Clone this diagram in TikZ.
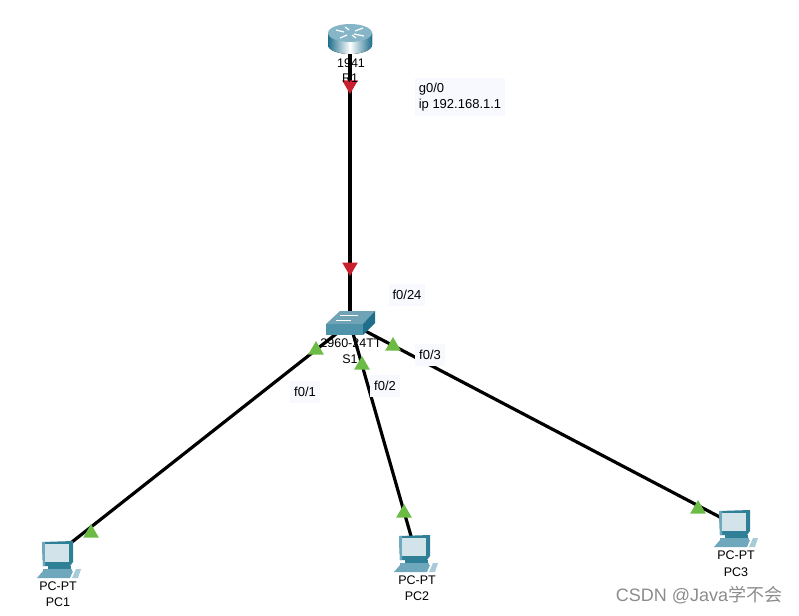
\documentclass[tikz,border=0pt]{standalone}
\usepackage{fontspec}
\setmainfont{Liberation Sans}
\newfontfamily\cjkfont{Noto Sans CJK SC}
\usetikzlibrary{shapes.geometric}
\definecolor{labelbg}{HTML}{F8F8FF}
\definecolor{pcdark}{HTML}{2F7F96}
\definecolor{pcmid}{HTML}{6FA8BC}
\definecolor{pcscreen}{HTML}{D3E3EA}
\definecolor{swtop}{HTML}{6FA3B5}
\definecolor{swfront}{HTML}{4F93AB}
\definecolor{swside}{HTML}{1F6F8B}
\definecolor{portred}{HTML}{C8202F}
\definecolor{portgreen}{HTML}{6CBB45}
\tikzset{
  device/.style={inner sep=0pt, minimum size=0pt},
  link/.style={draw=black, line width=3.2pt},
  portup/.style={regular polygon, regular polygon sides=3, fill=portgreen, inner sep=0pt, minimum size=18pt},
  portdown/.style={regular polygon, regular polygon sides=3, shape border rotate=180, fill=portred, inner sep=0pt, minimum size=18pt},
  devlabel/.style={inner sep=0pt, font=\fontsize{12.5}{14}\selectfont},
  note/.style={fill=labelbg, inner xsep=4pt, inner ysep=6pt, align=left, font=\fontsize{13}{16}\selectfont},
  routericon/.pic={
    \fill[left color=swside, right color=swside, middle color=white] (-22,-6) -- (-22,6) arc (180:0:22 and 9) -- (22,-6) -- cycle;
    \fill[pcmid!85] (0,-6) ellipse (22 and 9);
    \draw[white, line width=1.2pt] (-14,-9) -- (-6,-7) (13,-11) -- (5,-8) (-10,-1) -- (-3,-4) (14,-3) -- (4,-5) (-5,-12) -- (-1,-9) (6,-1) -- (2,-4);
  },
  switchicon/.pic={
    \fill[swtop] (-24,1) -- (-10,-12) -- (25,-12) -- (13,1) -- cycle;
    \fill[swfront] (-24,1) rectangle (13,12);
    \fill[swside] (13,1) -- (25,-12) -- (25,0) -- (13,12) -- cycle;
    \draw[white, line width=0.8pt] (-10,-8) -- (8,-8) (-14,-3) -- (1,-3);
  },
  pcicon/.pic={
    \fill[pcdark] (-16,0) -- (15,-1) -- (15,20) -- (12,24) -- (-15,24) -- cycle;
    \fill[pcmid] (-16,0) -- (-13,0) -- (-13,24) -- (-15,24) -- cycle;
    \fill[pcscreen] (-13,2) rectangle (11,20);
    \fill[pcdark] (-10,24) rectangle (13,27);
    \fill[pcmid] (-15,27) rectangle (14,29);
    \fill[pcmid] (-21,36) -- (-15,29) -- (15,29) -- (12,36) -- cycle;
    \fill[pcmid!60] (18,27) -- (23,27) -- (20,36) -- (14,36) -- cycle;
  }
}
\begin{document}
\begin{tikzpicture}[x=1pt,y=-1pt]
            \useasboundingbox (0,0) rectangle (799,615);

            % Define nodes
            \node[device] (R1) at (350,39) {};
            \node[device] (S1) at (350,323) {};
            \node[device] (PC1) at (58,553) {};
            \node[device] (PC2) at (415,550) {};
            \node[device] (PC3) at (735,525) {};

            % Draw edges
            \draw[link] (R1) -- (S1);
            \draw[link] (S1) -- (PC1);
            \draw[link] (S1) -- (PC2);
            \draw[link] (S1) -- (PC3);

            % Icons
            \pic at (350,39) {routericon};
            \pic at (350,323) {switchicon};
            \pic at (58,542) {pcicon};
            \pic at (415,536) {pcicon};
            \pic at (735,511) {pcicon};

            % Port lights
            \node[portdown] (R1port) at (350,85) {};
            \node[portdown] (S1uplink) at (350,267) {};
            \node[portup] (S1port1) at (316,350) {};
            \node[portup] (S1port2) at (362,365) {};
            \node[portup] (S1port3) at (393,346) {};
            \node[portup] (PC1port) at (91,533) {};
            \node[portup] (PC2port) at (404,513) {};
            \node[portup] (PC3port) at (698,509) {};

            % Device names
            \node[devlabel] (R1model) at (351,63) {1941};
            \node[devlabel] (R1name) at (350,78) {R1};
            \node[devlabel] (S1model) at (351,343) {2960-24TT};
            \node[devlabel] (S1name) at (350,359) {S1};
            \node[devlabel] (PC1model) at (58,586) {PC-PT};
            \node[devlabel] (PC1name) at (58,602) {PC1};
            \node[devlabel] (PC2model) at (417,580) {PC-PT};
            \node[devlabel] (PC2name) at (417,596) {PC2};
            \node[devlabel] (PC3model) at (736,555) {PC-PT};
            \node[devlabel] (PC3name) at (736,572) {PC3};

            % Port notes
            \node[note, inner ysep=4.5pt] (noteR1) at (460,97) {g0/0\\ip 192.168.1.1};
            \node[note] (note24) at (407,295) {f0/24};
            \node[note] (note1) at (305,392) {f0/1};
            \node[note] (note2) at (385,386) {f0/2};
            \node[note] (note3) at (430,355) {f0/3};

            \node[inner sep=0pt, text=black!45, font=\fontsize{18}{20}\selectfont] (mark) at (699,595) {CSDN @Java{\cjkfont 学不会}};

        \end{tikzpicture}
\end{document}
